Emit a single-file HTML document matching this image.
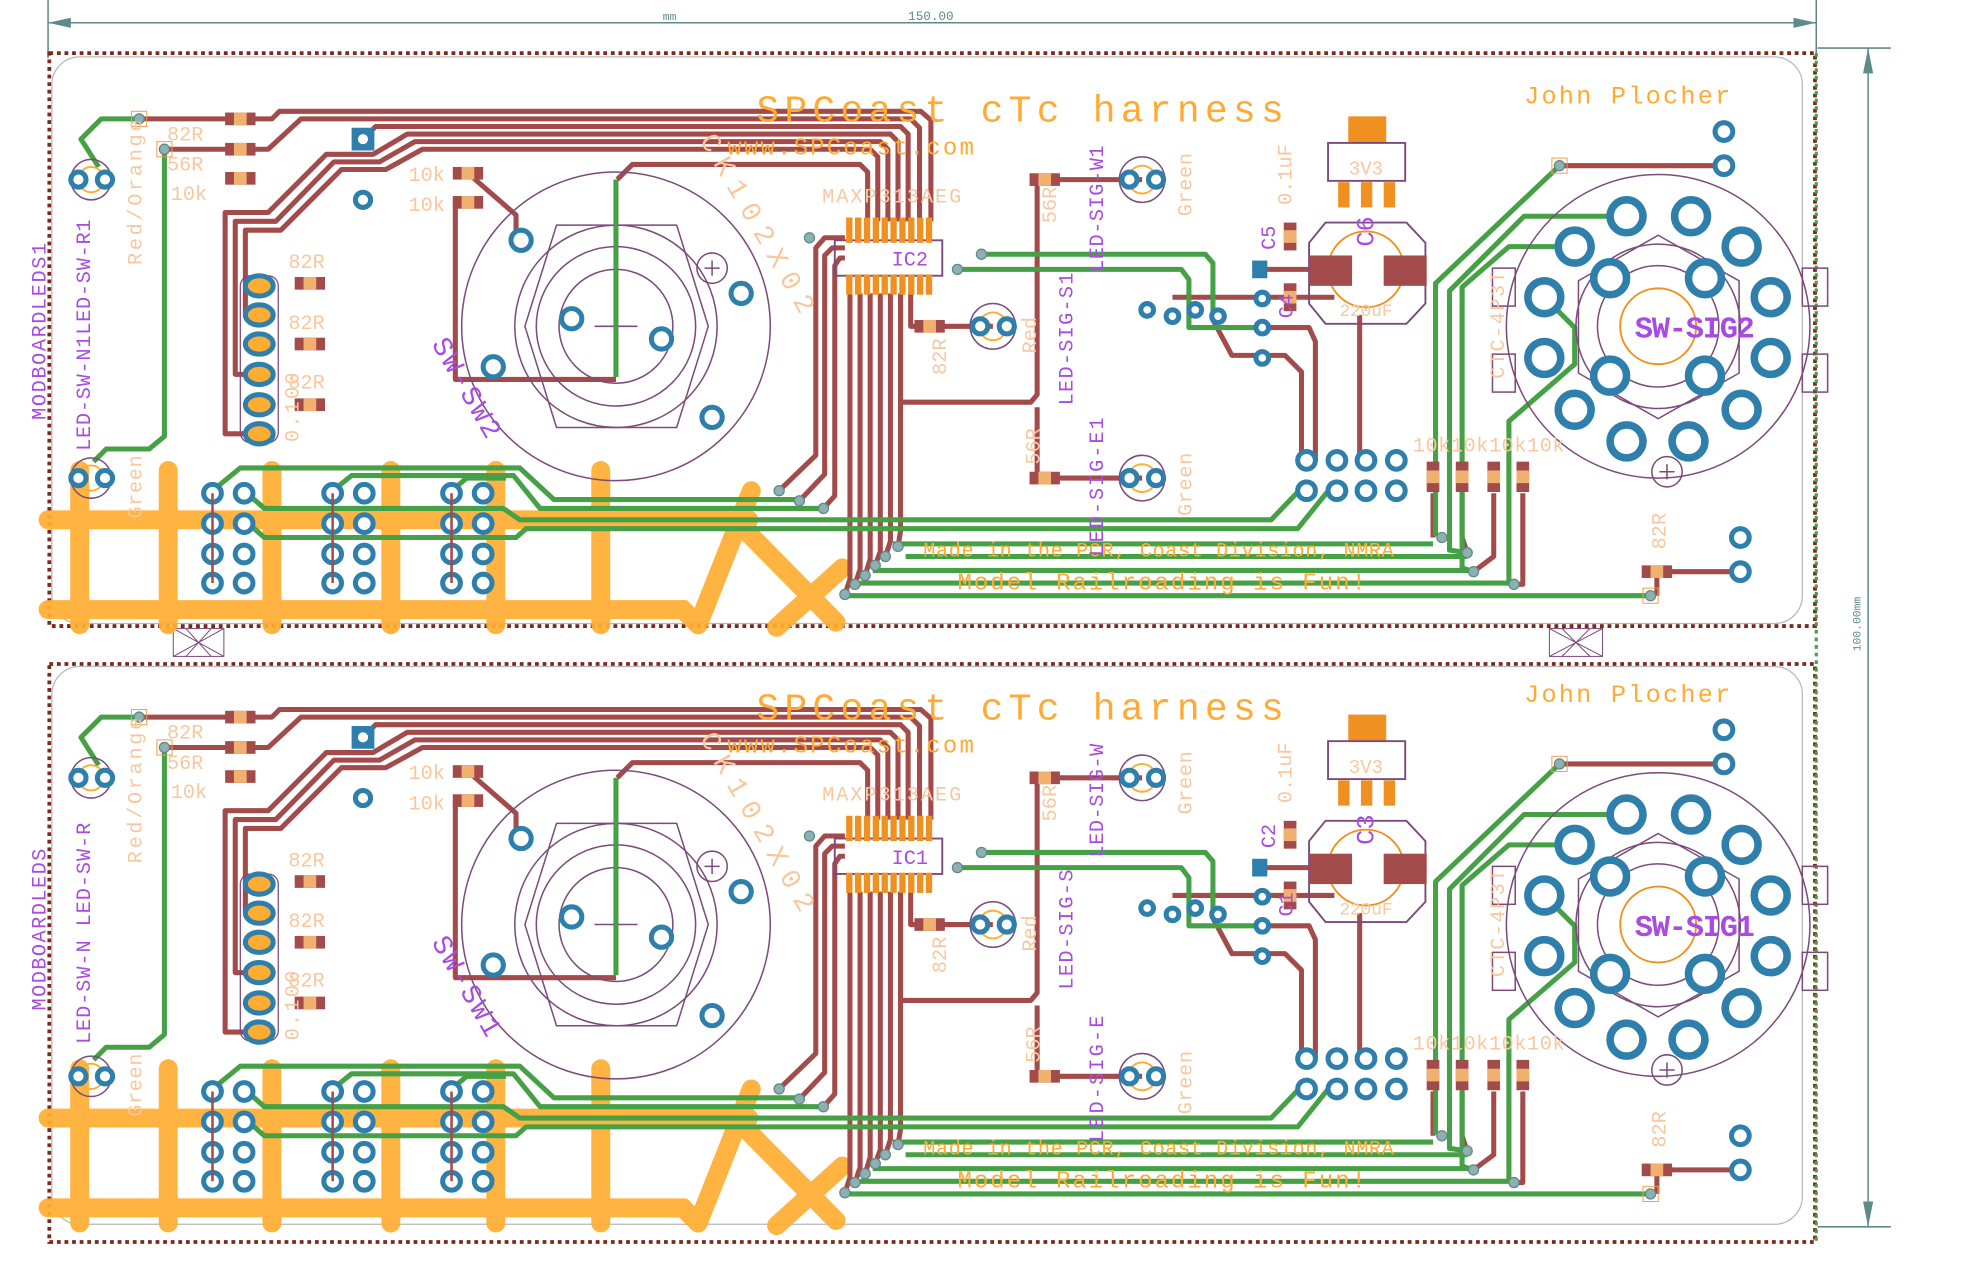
<!DOCTYPE html>
<html><head><meta charset="utf-8"><style>
html,body{margin:0;padding:0;background:#fff;}
svg{display:block;}
text{font-family:"Liberation Mono",monospace;}
.r{stroke:#a34a4a;stroke-width:4;fill:none;stroke-linejoin:round}
.g{stroke:#46a046;stroke-width:4;fill:none;stroke-linejoin:round}
.o{stroke:#ffad32;stroke-width:15;fill:none;stroke-linecap:round;opacity:.93}
.p{stroke:#7b4b7b;stroke-width:1.2;fill:none}
.pd{stroke:#2f7fad;stroke-width:4;fill:#fff}
.pb{stroke:#2f7fad;stroke-width:6;fill:#fff}
.v{fill:#8fb0b0;stroke:#5e8a8a;stroke-width:1}
.vb{fill:none;stroke:#f0a050;stroke-width:.8}
.pu{fill:#a84be0}
.lo{fill:#f9c79d}
.or{fill:#ffaa33}
</style></head><body>
<svg width="1987" height="1285" viewBox="0 0 1571 1016" preserveAspectRatio="none" xmlns="http://www.w3.org/2000/svg">
<g stroke="#5e8a8a" stroke-width="1.2" fill="none">
<path d="M38,0 V46 M1436,0 V46 M38,18 H1436"/>
<path d="M1437,38 H1495 M1437,970 H1495 M1477,38 V970"/>
</g>
<path d="M38,18 L56,14 L56,22Z M1436,18 L1418,14 L1418,22Z M1477,38 L1473,58 L1481,58Z M1477,970 L1473,950 L1481,950Z" fill="#5e8a8a"/>
<text x="524" y="16" font-size="9" fill="#5e8a8a">mm</text>
<text x="718" y="16" font-size="10" fill="#5e8a8a">150.00</text>
<text transform="translate(1471,515) rotate(-90)" font-size="9" fill="#5e8a8a">100.00mm</text>
<g fill="none" stroke="#7a2a1a" stroke-width="3" stroke-dasharray="3,3">
<rect x="39" y="42" width="1396" height="453"/>
<rect x="39" y="525" width="1396" height="457"/>
</g>
<path d="M1436,42 V982" stroke="#46a046" stroke-width="2.5" stroke-dasharray="3,3"/>
<rect x="41" y="45" width="1384" height="448" rx="22" fill="none" stroke="#b8b8b8" stroke-width="1"/>
<rect x="41" y="527" width="1384" height="441" rx="22" fill="none" stroke="#b8b8b8" stroke-width="1"/>
<g stroke="#7b4b7b" stroke-width=".8" fill="none">
<rect x="137" y="497" width="40" height="22"/><path d="M137,497 L177,519 M177,497 L137,519 M147,497 L167,519 M167,497 L147,519"/>
<rect x="1225" y="497" width="42" height="22"/><path d="M1225,497 L1267,519 M1267,497 L1225,519 M1235,497 L1257,519 M1257,497 L1235,519"/>
</g>

<!-- ================= BOARD 1 ================= -->
<g>
<path class="o" d="M38,411 H592 M38,482 H540 L552,494 M63,372 V494 M133,372 V494 M215,372 V494 M309,372 V494 M392,372 V494 M475,372 V494 M552,494 L594,388 M592,422 L661,492 M666,449 L614,496"/>
<path class="r" d="M110,94 H215 L221,88 H728 L736,95 V175"/>
<path class="r" d="M130,118 H212 L238,94 H720 L727,101 V175"/>
<path class="r" d="M287,110 L297,100 H712 L718,106 V175"/>
<path class="r" d="M205,343 H178 V168 H212 L258,122 H295 L322,106 H704 L710,112 V175"/>
<path class="r" d="M205,296 H186 V175 H218 L264,128 H300 L328,112 H696 L702,118 V175"/>
<path class="r" d="M205,248 H194 V182 H222 L270,134 H305 L334,118 H688 L694,124 V175"/>
<path class="r" d="M370,137 L408,170 V190"/>
<path class="r" d="M488,142 L500,130 H680 L686,136 V175"/>
<path class="r" d="M370,160 H360 V300 H487"/>
<path class="r" d="M672,232 V458 L668,470 M680,232 V450 L676,462 M688,232 V442 L684,455 M696,232 V436 L692,447 M704,232 V428 L700,440 M712,232 V420 L710,432"/>
<path class="r" d="M668,188 H652 L645,196 V360 L616,388 M668,196 H658 L652,202 V375 L632,396 M668,204 H664 L660,210 V392 L651,402"/>
<path class="r" d="M720,232 V258 H735 M745,258 H785 M712,240 V318 H815 L820,312 V142 H836 M820,322 V378 H903 M836,142 H903"/>
<path class="r" d="M927,235 H1055 M995,259 H1035 L1040,270 V364 M959,253 L974,281 H1016 L1029,294 V364 M1075,249 V364 M1000,213 H1045"/>
<path class="r" d="M1233,131 H1363 M1133,390 V425 M1156,390 V425 L1160,437 M1181,390 V440 L1165,452 M1204,390 V462 H1197 M1310,452 V471 M1320,452 H1376"/>
<path class="g" d="M110,94 H80 L64,110 L78,132 M130,118 V345 L118,355 H84 L74,365 M487,142 V298"/>
<path class="g" d="M168,388 L190,370 H411 L438,395 H631 M263,388 L278,376 H406 L427,402 H651 M357,388 L369,378 H400 M193,388 L209,402 H398 L411,411 H1005 L1028,387 M193,411 L209,425 H408 L416,418 H1026 L1051,387"/>
<path class="g" d="M776,201 H953 L959,208 V252 M757,213 H934 L940,221 V259 H992"/>
<path class="g" d="M1233,131 L1135,224 V424 M1286,171 H1205 L1146,230 V435 L1160,437 M1245,195 H1193 L1156,227 V449 L1165,452 M1221,235 L1245,259 V288 L1193,333 V460"/>
<path class="g" d="M706,430 H1133 M716,440 H1160 M690,451 H1165 M680,461 H1197 M670,471 H1305"/>
<g><circle class="p" cx="72" cy="142" r="16" stroke-width="2"/><circle cx="72" cy="142" r="10" fill="none" stroke="#ffad32" stroke-width="1.5"/><circle class="pd" cx="62" cy="142" r="6" stroke-width="3"/><circle class="pd" cx="83" cy="142" r="6" stroke-width="3"/></g>
<g><circle class="p" cx="72" cy="378" r="16" stroke-width="2"/><circle cx="72" cy="378" r="10" fill="none" stroke="#ffad32" stroke-width="1.5"/><circle class="pd" cx="62" cy="378" r="6" stroke-width="3"/><circle class="pd" cx="83" cy="378" r="6" stroke-width="3"/></g>
<g><rect class="vb" x="104" y="88" width="12" height="12"/><circle class="v" cx="110" cy="94" r="4"/><rect class="vb" x="124" y="112" width="12" height="12"/><circle class="v" cx="130" cy="118" r="4"/>
<circle class="v" cx="640" cy="188" r="4"/><circle class="v" cx="776" cy="201" r="4"/><circle class="v" cx="757" cy="213" r="4"/>
<circle class="v" cx="616" cy="388" r="4"/><circle class="v" cx="632" cy="396" r="4"/><circle class="v" cx="651" cy="402" r="4"/>
<circle class="v" cx="710" cy="432" r="4"/><circle class="v" cx="700" cy="440" r="4"/><circle class="v" cx="692" cy="447" r="4"/><circle class="v" cx="684" cy="455" r="4"/><circle class="v" cx="676" cy="462" r="4"/><circle class="v" cx="668" cy="470" r="4"/>
<rect class="vb" x="1227" y="125" width="12" height="12"/><circle class="v" cx="1233" cy="131" r="4"/>
<circle class="v" cx="1140" cy="425" r="4"/><circle class="v" cx="1160" cy="437" r="4"/><circle class="v" cx="1165" cy="452" r="4"/><circle class="v" cx="1197" cy="462" r="4"/><rect class="vb" x="1299" y="465" width="12" height="12"/><circle class="v" cx="1305" cy="471" r="4"/></g>
<g fill="#a34a4a">
<rect x="178" y="89" width="24" height="10"/><rect x="178" y="113" width="24" height="10"/><rect x="178" y="136" width="24" height="10"/>
<rect x="233" y="219" width="24" height="10"/><rect x="233" y="267" width="24" height="10"/><rect x="233" y="315" width="24" height="10"/>
<rect x="358" y="132" width="24" height="10"/><rect x="358" y="155" width="24" height="10"/>
<rect x="723" y="253" width="24" height="10"/><rect x="814" y="137" width="24" height="10"/><rect x="814" y="373" width="24" height="10"/>
<rect x="1128" y="365" width="10" height="24"/><rect x="1151" y="365" width="10" height="24"/><rect x="1176" y="365" width="10" height="24"/><rect x="1199" y="365" width="10" height="24"/>
<rect x="1298" y="447" width="24" height="10"/><rect x="1015" y="176" width="10" height="22"/><rect x="1015" y="224" width="10" height="22"/>
</g>
<g fill="#f0b070">
<rect x="185" y="89" width="10" height="10"/><rect x="185" y="113" width="10" height="10"/><rect x="185" y="136" width="10" height="10"/>
<rect x="240" y="219" width="10" height="10"/><rect x="240" y="267" width="10" height="10"/><rect x="240" y="315" width="10" height="10"/>
<rect x="365" y="132" width="10" height="10"/><rect x="365" y="155" width="10" height="10"/>
<rect x="730" y="253" width="10" height="10"/><rect x="821" y="137" width="10" height="10"/><rect x="821" y="373" width="10" height="10"/>
<rect x="1128" y="372" width="10" height="10"/><rect x="1151" y="372" width="10" height="10"/><rect x="1176" y="372" width="10" height="10"/><rect x="1199" y="372" width="10" height="10"/>
<rect x="1305" y="447" width="10" height="10"/><rect x="1015" y="182" width="10" height="10"/><rect x="1015" y="230" width="10" height="10"/>
</g>
<rect x="278" y="101" width="18" height="18" fill="#2f7fad"/><circle cx="287" cy="110" r="4" fill="#fff"/>
<circle class="pd" cx="287" cy="158" r="6"/>
<g><rect x="190" y="218" width="30" height="132" rx="8" fill="none" stroke="#7b4b7b" stroke-width="1"/>
<ellipse cx="205" cy="226" rx="11" ry="8" fill="#ffad32" stroke="#2f7fad" stroke-width="4"/><ellipse cx="205" cy="249" rx="11" ry="8" fill="#ffad32" stroke="#2f7fad" stroke-width="4"/><ellipse cx="205" cy="272" rx="11" ry="8" fill="#ffad32" stroke="#2f7fad" stroke-width="4"/><ellipse cx="205" cy="296" rx="11" ry="8" fill="#ffad32" stroke="#2f7fad" stroke-width="4"/><ellipse cx="205" cy="320" rx="11" ry="8" fill="#ffad32" stroke="#2f7fad" stroke-width="4"/><ellipse cx="205" cy="343" rx="11" ry="8" fill="#ffad32" stroke="#2f7fad" stroke-width="4"/></g>
<g><circle class="pd" cx="168" cy="390" r="7"/><circle class="pd" cx="193" cy="390" r="7"/><circle class="pd" cx="168" cy="414" r="7"/><circle class="pd" cx="193" cy="414" r="7"/><circle class="pd" cx="168" cy="438" r="7"/><circle class="pd" cx="193" cy="438" r="7"/><circle class="pd" cx="168" cy="461" r="7"/><circle class="pd" cx="193" cy="461" r="7"/>
<circle class="pd" cx="263" cy="390" r="7"/><circle class="pd" cx="288" cy="390" r="7"/><circle class="pd" cx="263" cy="414" r="7"/><circle class="pd" cx="288" cy="414" r="7"/><circle class="pd" cx="263" cy="438" r="7"/><circle class="pd" cx="288" cy="438" r="7"/><circle class="pd" cx="263" cy="461" r="7"/><circle class="pd" cx="288" cy="461" r="7"/>
<circle class="pd" cx="357" cy="390" r="7"/><circle class="pd" cx="382" cy="390" r="7"/><circle class="pd" cx="357" cy="414" r="7"/><circle class="pd" cx="382" cy="414" r="7"/><circle class="pd" cx="357" cy="438" r="7"/><circle class="pd" cx="382" cy="438" r="7"/><circle class="pd" cx="357" cy="461" r="7"/><circle class="pd" cx="382" cy="461" r="7"/></g>
<path d="M168,390 V461 M263,390 V461 M357,390 V461" stroke="#a34a4a" stroke-width="2"/>
<g class="p"><circle cx="487" cy="258" r="122"/><path d="M440,178 L535,178 L560,258 L535,338 L440,338 L415,258Z"/><circle cx="487" cy="258" r="80"/><circle cx="487" cy="258" r="63"/><circle cx="487" cy="258" r="45"/><circle cx="563" cy="212" r="12"/><path d="M557,212 H569 M563,206 V218 M470,258 H504"/></g>
<path d="M487,142 V298" stroke="#46a046" stroke-width="3"/>
<g><circle class="pd" cx="412" cy="190" r="8"/><circle class="pd" cx="452" cy="252" r="8"/><circle class="pd" cx="523" cy="268" r="8"/><circle class="pd" cx="390" cy="290" r="8"/><circle class="pd" cx="586" cy="232" r="8"/><circle class="pd" cx="563" cy="330" r="8"/></g>
<rect x="660" y="190" width="85" height="28" fill="none" stroke="#7b4b7b" stroke-width="1.5"/>
<g fill="#f09020"><rect x="669" y="172" width="5" height="20"/><rect x="676" y="172" width="5" height="20"/><rect x="683" y="172" width="5" height="20"/><rect x="690" y="172" width="5" height="20"/><rect x="697" y="172" width="5" height="20"/><rect x="704" y="172" width="5" height="20"/><rect x="711" y="172" width="5" height="20"/><rect x="718" y="172" width="5" height="20"/><rect x="725" y="172" width="5" height="20"/><rect x="732" y="172" width="5" height="20"/>
<rect x="669" y="217" width="5" height="16"/><rect x="676" y="217" width="5" height="16"/><rect x="683" y="217" width="5" height="16"/><rect x="690" y="217" width="5" height="16"/><rect x="697" y="217" width="5" height="16"/><rect x="704" y="217" width="5" height="16"/><rect x="711" y="217" width="5" height="16"/><rect x="718" y="217" width="5" height="16"/><rect x="725" y="217" width="5" height="16"/><rect x="732" y="217" width="5" height="16"/></g>
<g><circle class="p" cx="785" cy="258" r="18" stroke-width="2"/><circle cx="785" cy="258" r="11" fill="none" stroke="#ffad32" stroke-width="1.5"/><circle class="pd" cx="775" cy="258" r="6" stroke-width="3"/><circle class="pd" cx="796" cy="258" r="6" stroke-width="3"/></g>
<g><circle class="p" cx="903" cy="142" r="18" stroke-width="2"/><circle cx="903" cy="142" r="11" fill="none" stroke="#ffad32" stroke-width="1.5"/><circle class="pd" cx="893" cy="142" r="6" stroke-width="3"/><circle class="pd" cx="914" cy="142" r="6" stroke-width="3"/></g>
<g><circle class="p" cx="903" cy="378" r="18" stroke-width="2"/><circle cx="903" cy="378" r="11" fill="none" stroke="#ffad32" stroke-width="1.5"/><circle class="pd" cx="893" cy="378" r="6" stroke-width="3"/><circle class="pd" cx="914" cy="378" r="6" stroke-width="3"/></g>
<rect x="1066" y="92" width="30" height="22" fill="#f09020"/>
<rect x="1050" y="113" width="61" height="30" fill="#fff" stroke="#7b4b7b" stroke-width="1.5"/>
<g fill="#f09020"><rect x="1058" y="144" width="9" height="20"/><rect x="1076" y="144" width="9" height="20"/><rect x="1094" y="144" width="9" height="20"/></g>
<path d="M1048,176 H1112 L1127,192 V240 L1112,256 H1048 L1035,240 V192Z" fill="none" stroke="#7b4b7b" stroke-width="1.5"/>
<circle cx="1080" cy="213" r="30" fill="none" stroke="#f09020" stroke-width="1.5"/>
<rect x="1035" y="202" width="34" height="24" fill="#a34a4a"/><rect x="1094" y="202" width="34" height="24" fill="#a34a4a"/>
<rect x="990" y="206" width="12" height="14" fill="#2f7fad"/>
<g><circle class="pd" cx="998" cy="236" r="5" stroke-width="3"/><circle class="pd" cx="998" cy="259" r="5" stroke-width="3"/><circle class="pd" cx="998" cy="283" r="5" stroke-width="3"/>
<circle class="pd" cx="907" cy="245" r="5" stroke-width="3"/><circle class="pd" cx="927" cy="250" r="5" stroke-width="3"/><circle class="pd" cx="945" cy="245" r="5" stroke-width="3"/><circle class="pd" cx="963" cy="250" r="5" stroke-width="3"/>
<circle class="pd" cx="1033" cy="364" r="7"/><circle class="pd" cx="1057" cy="364" r="7"/><circle class="pd" cx="1080" cy="364" r="7"/><circle class="pd" cx="1104" cy="364" r="7"/>
<circle class="pd" cx="1033" cy="388" r="7"/><circle class="pd" cx="1057" cy="388" r="7"/><circle class="pd" cx="1080" cy="388" r="7"/><circle class="pd" cx="1104" cy="388" r="7"/>
<circle class="pd" cx="1363" cy="104" r="7"/><circle class="pd" cx="1363" cy="131" r="7"/><circle class="pd" cx="1376" cy="425" r="7"/><circle class="pd" cx="1376" cy="452" r="7"/></g>
<g class="p"><circle cx="1311" cy="258" r="120"/><path d="M1311,186 L1375,222 V295 L1311,331 L1248,295 V222Z"/><circle cx="1311" cy="258" r="65"/><circle cx="1311" cy="258" r="48"/><circle cx="1318" cy="373" r="12"/><path d="M1312,373 H1324 M1318,367 V379"/>
<rect x="1425" y="212" width="20" height="30"/><rect x="1425" y="280" width="20" height="30"/><rect x="1180" y="212" width="18" height="30"/><rect x="1180" y="280" width="18" height="30"/></g>
<circle cx="1311" cy="258" r="30" fill="none" stroke="#f09020" stroke-width="1.5"/>
<g><circle class="pb" cx="1286" cy="171" r="13"/><circle class="pb" cx="1337" cy="171" r="13"/><circle class="pb" cx="1377" cy="195" r="13"/><circle class="pb" cx="1400" cy="235" r="13"/><circle class="pb" cx="1400" cy="283" r="13"/><circle class="pb" cx="1377" cy="324" r="13"/><circle class="pb" cx="1335" cy="349" r="13"/><circle class="pb" cx="1286" cy="349" r="13"/><circle class="pb" cx="1245" cy="324" r="13"/><circle class="pb" cx="1221" cy="283" r="13"/><circle class="pb" cx="1221" cy="235" r="13"/><circle class="pb" cx="1245" cy="195" r="13"/>
<circle class="pb" cx="1273" cy="220" r="13"/><circle class="pb" cx="1348" cy="220" r="13"/><circle class="pb" cx="1348" cy="297" r="13"/><circle class="pb" cx="1273" cy="297" r="13"/></g>
<text x="598" y="96" font-size="30" textLength="417" class="or">SPCoast  cTc  harness</text>
<text x="575" y="122" font-size="19" textLength="195" class="or">www.SPCoast.com</text>
<text x="1205" y="82" font-size="20" textLength="163" class="or">John Plocher</text>
<text x="650" y="160" font-size="16" textLength="110" class="lo">MAXP313AEG</text>
<text x="730" y="440" font-size="16" textLength="372" class="or">Made in the PCR, Coast Division, NMRA</text>
<text x="757" y="466" font-size="19" textLength="323" class="or">Model Railroading is Fun!</text>
<text x="132" y="111" font-size="16" class="lo">82R</text><text x="132" y="135" font-size="16" class="lo">56R</text><text x="135" y="158" font-size="16" class="lo">10k</text>
<text x="228" y="212" font-size="16" class="lo">82R</text><text x="228" y="260" font-size="16" class="lo">82R</text><text x="228" y="307" font-size="16" class="lo">82R</text>
<text x="323" y="143" font-size="16" class="lo">10k</text><text x="323" y="167" font-size="16" class="lo">10k</text>
<text x="1117" y="357" font-size="16" textLength="120" class="lo">10k10k10k10k</text>
<text x="1080" y="138" font-size="15" text-anchor="middle" class="lo">3V3</text>
<text x="1080" y="250" font-size="14" text-anchor="middle" class="lo">220uF</text>
<text x="705" y="210" font-size="16" class="pu">IC2</text>
<text x="1340" y="267" font-size="24" text-anchor="middle" textLength="95" class="pu" font-weight="bold">SW-SIG2</text>
<g font-size="16">
<text transform="translate(36,262) rotate(-90)" text-anchor="middle" textLength="140" class="pu">MODBOARDLEDS1</text>
<text transform="translate(71,265) rotate(-90)" text-anchor="middle" textLength="183" class="pu">LED-SW-N1LED-SW-R1</text>
<text transform="translate(112,152) rotate(-90)" text-anchor="middle" textLength="115" class="lo">Red/Orange</text>
<text transform="translate(112,385) rotate(-90)" text-anchor="middle" textLength="50" class="lo">Green</text>
<text transform="translate(236,322) rotate(-90)" text-anchor="middle" textLength="55" class="lo">0.100</text>
<text transform="translate(748,282) rotate(-90)" text-anchor="middle" class="lo">82R</text>
<text transform="translate(819,265) rotate(-90)" text-anchor="middle" class="lo">Red</text>
<text transform="translate(835,162) rotate(-90)" text-anchor="middle" class="lo">56R</text>
<text transform="translate(822,353) rotate(-90)" text-anchor="middle" class="lo">56R</text>
<text transform="translate(872,165) rotate(-90)" text-anchor="middle" textLength="100" class="pu">LED-SIG-W1</text>
<text transform="translate(848,268) rotate(-90)" text-anchor="middle" textLength="105" class="pu">LED-SIG-S1</text>
<text transform="translate(872,385) rotate(-90)" text-anchor="middle" textLength="110" class="pu">LED-SIG-E1</text>
<text transform="translate(942,146) rotate(-90)" text-anchor="middle" textLength="50" class="lo">Green</text>
<text transform="translate(942,383) rotate(-90)" text-anchor="middle" textLength="50" class="lo">Green</text>
<text transform="translate(1021,138) rotate(-90)" text-anchor="middle" textLength="48" class="lo">0.1uF</text>
<text transform="translate(1008,188) rotate(-90)" text-anchor="middle" class="pu">C5</text>
<text transform="translate(1022,242) rotate(-90)" text-anchor="middle" class="pu">C4</text>
<text transform="translate(1086,183) rotate(-90)" text-anchor="middle" font-size="20" class="pu">C6</text>
<text transform="translate(1189,257) rotate(-90)" text-anchor="middle" textLength="85" class="lo">CTC-4P3T</text>
<text transform="translate(1317,420) rotate(-90)" text-anchor="middle" class="lo">82R</text>
<text transform="translate(593,180) rotate(60)" text-anchor="middle" font-size="22" textLength="160" class="lo">CK102X02</text>
<text transform="translate(363,310) rotate(60)" text-anchor="middle" font-size="22" textLength="88" class="pu">SW-SW2</text>
</g>
</g>

<!-- ================= BOARD 2 ================= -->
<g transform="translate(0,473)">
<path class="o" d="M38,411 H592 M38,482 H540 L552,494 M63,372 V494 M133,372 V494 M215,372 V494 M309,372 V494 M392,372 V494 M475,372 V494 M552,494 L594,388 M592,422 L661,492 M666,449 L614,496"/>
<path class="r" d="M110,94 H215 L221,88 H728 L736,95 V175"/>
<path class="r" d="M130,118 H212 L238,94 H720 L727,101 V175"/>
<path class="r" d="M287,110 L297,100 H712 L718,106 V175"/>
<path class="r" d="M205,343 H178 V168 H212 L258,122 H295 L322,106 H704 L710,112 V175"/>
<path class="r" d="M205,296 H186 V175 H218 L264,128 H300 L328,112 H696 L702,118 V175"/>
<path class="r" d="M205,248 H194 V182 H222 L270,134 H305 L334,118 H688 L694,124 V175"/>
<path class="r" d="M370,137 L408,170 V190"/>
<path class="r" d="M488,142 L500,130 H680 L686,136 V175"/>
<path class="r" d="M370,160 H360 V300 H487"/>
<path class="r" d="M672,232 V458 L668,470 M680,232 V450 L676,462 M688,232 V442 L684,455 M696,232 V436 L692,447 M704,232 V428 L700,440 M712,232 V420 L710,432"/>
<path class="r" d="M668,188 H652 L645,196 V360 L616,388 M668,196 H658 L652,202 V375 L632,396 M668,204 H664 L660,210 V392 L651,402"/>
<path class="r" d="M720,232 V258 H735 M745,258 H785 M712,240 V318 H815 L820,312 V142 H836 M820,322 V378 H903 M836,142 H903"/>
<path class="r" d="M927,235 H1055 M995,259 H1035 L1040,270 V364 M959,253 L974,281 H1016 L1029,294 V364 M1075,249 V364 M1000,213 H1045"/>
<path class="r" d="M1233,131 H1363 M1133,390 V425 M1156,390 V425 L1160,437 M1181,390 V440 L1165,452 M1204,390 V462 H1197 M1310,452 V471 M1320,452 H1376"/>
<path class="g" d="M110,94 H80 L64,110 L78,132 M130,118 V345 L118,355 H84 L74,365 M487,142 V298"/>
<path class="g" d="M168,388 L190,370 H411 L438,395 H631 M263,388 L278,376 H406 L427,402 H651 M357,388 L369,378 H400 M193,388 L209,402 H398 L411,411 H1005 L1028,387 M193,411 L209,425 H408 L416,418 H1026 L1051,387"/>
<path class="g" d="M776,201 H953 L959,208 V252 M757,213 H934 L940,221 V259 H992"/>
<path class="g" d="M1233,131 L1135,224 V424 M1286,171 H1205 L1146,230 V435 L1160,437 M1245,195 H1193 L1156,227 V449 L1165,452 M1221,235 L1245,259 V288 L1193,333 V460"/>
<path class="g" d="M706,430 H1133 M716,440 H1160 M690,451 H1165 M680,461 H1197 M670,471 H1305"/>
<g><circle class="p" cx="72" cy="142" r="16" stroke-width="2"/><circle cx="72" cy="142" r="10" fill="none" stroke="#ffad32" stroke-width="1.5"/><circle class="pd" cx="62" cy="142" r="6" stroke-width="3"/><circle class="pd" cx="83" cy="142" r="6" stroke-width="3"/></g>
<g><circle class="p" cx="72" cy="378" r="16" stroke-width="2"/><circle cx="72" cy="378" r="10" fill="none" stroke="#ffad32" stroke-width="1.5"/><circle class="pd" cx="62" cy="378" r="6" stroke-width="3"/><circle class="pd" cx="83" cy="378" r="6" stroke-width="3"/></g>
<g><rect class="vb" x="104" y="88" width="12" height="12"/><circle class="v" cx="110" cy="94" r="4"/><rect class="vb" x="124" y="112" width="12" height="12"/><circle class="v" cx="130" cy="118" r="4"/>
<circle class="v" cx="640" cy="188" r="4"/><circle class="v" cx="776" cy="201" r="4"/><circle class="v" cx="757" cy="213" r="4"/>
<circle class="v" cx="616" cy="388" r="4"/><circle class="v" cx="632" cy="396" r="4"/><circle class="v" cx="651" cy="402" r="4"/>
<circle class="v" cx="710" cy="432" r="4"/><circle class="v" cx="700" cy="440" r="4"/><circle class="v" cx="692" cy="447" r="4"/><circle class="v" cx="684" cy="455" r="4"/><circle class="v" cx="676" cy="462" r="4"/><circle class="v" cx="668" cy="470" r="4"/>
<rect class="vb" x="1227" y="125" width="12" height="12"/><circle class="v" cx="1233" cy="131" r="4"/>
<circle class="v" cx="1140" cy="425" r="4"/><circle class="v" cx="1160" cy="437" r="4"/><circle class="v" cx="1165" cy="452" r="4"/><circle class="v" cx="1197" cy="462" r="4"/><rect class="vb" x="1299" y="465" width="12" height="12"/><circle class="v" cx="1305" cy="471" r="4"/></g>
<g fill="#a34a4a">
<rect x="178" y="89" width="24" height="10"/><rect x="178" y="113" width="24" height="10"/><rect x="178" y="136" width="24" height="10"/>
<rect x="233" y="219" width="24" height="10"/><rect x="233" y="267" width="24" height="10"/><rect x="233" y="315" width="24" height="10"/>
<rect x="358" y="132" width="24" height="10"/><rect x="358" y="155" width="24" height="10"/>
<rect x="723" y="253" width="24" height="10"/><rect x="814" y="137" width="24" height="10"/><rect x="814" y="373" width="24" height="10"/>
<rect x="1128" y="365" width="10" height="24"/><rect x="1151" y="365" width="10" height="24"/><rect x="1176" y="365" width="10" height="24"/><rect x="1199" y="365" width="10" height="24"/>
<rect x="1298" y="447" width="24" height="10"/><rect x="1015" y="176" width="10" height="22"/><rect x="1015" y="224" width="10" height="22"/>
</g>
<g fill="#f0b070">
<rect x="185" y="89" width="10" height="10"/><rect x="185" y="113" width="10" height="10"/><rect x="185" y="136" width="10" height="10"/>
<rect x="240" y="219" width="10" height="10"/><rect x="240" y="267" width="10" height="10"/><rect x="240" y="315" width="10" height="10"/>
<rect x="365" y="132" width="10" height="10"/><rect x="365" y="155" width="10" height="10"/>
<rect x="730" y="253" width="10" height="10"/><rect x="821" y="137" width="10" height="10"/><rect x="821" y="373" width="10" height="10"/>
<rect x="1128" y="372" width="10" height="10"/><rect x="1151" y="372" width="10" height="10"/><rect x="1176" y="372" width="10" height="10"/><rect x="1199" y="372" width="10" height="10"/>
<rect x="1305" y="447" width="10" height="10"/><rect x="1015" y="182" width="10" height="10"/><rect x="1015" y="230" width="10" height="10"/>
</g>
<rect x="278" y="101" width="18" height="18" fill="#2f7fad"/><circle cx="287" cy="110" r="4" fill="#fff"/>
<circle class="pd" cx="287" cy="158" r="6"/>
<g><rect x="190" y="218" width="30" height="132" rx="8" fill="none" stroke="#7b4b7b" stroke-width="1"/>
<ellipse cx="205" cy="226" rx="11" ry="8" fill="#ffad32" stroke="#2f7fad" stroke-width="4"/><ellipse cx="205" cy="249" rx="11" ry="8" fill="#ffad32" stroke="#2f7fad" stroke-width="4"/><ellipse cx="205" cy="272" rx="11" ry="8" fill="#ffad32" stroke="#2f7fad" stroke-width="4"/><ellipse cx="205" cy="296" rx="11" ry="8" fill="#ffad32" stroke="#2f7fad" stroke-width="4"/><ellipse cx="205" cy="320" rx="11" ry="8" fill="#ffad32" stroke="#2f7fad" stroke-width="4"/><ellipse cx="205" cy="343" rx="11" ry="8" fill="#ffad32" stroke="#2f7fad" stroke-width="4"/></g>
<g><circle class="pd" cx="168" cy="390" r="7"/><circle class="pd" cx="193" cy="390" r="7"/><circle class="pd" cx="168" cy="414" r="7"/><circle class="pd" cx="193" cy="414" r="7"/><circle class="pd" cx="168" cy="438" r="7"/><circle class="pd" cx="193" cy="438" r="7"/><circle class="pd" cx="168" cy="461" r="7"/><circle class="pd" cx="193" cy="461" r="7"/>
<circle class="pd" cx="263" cy="390" r="7"/><circle class="pd" cx="288" cy="390" r="7"/><circle class="pd" cx="263" cy="414" r="7"/><circle class="pd" cx="288" cy="414" r="7"/><circle class="pd" cx="263" cy="438" r="7"/><circle class="pd" cx="288" cy="438" r="7"/><circle class="pd" cx="263" cy="461" r="7"/><circle class="pd" cx="288" cy="461" r="7"/>
<circle class="pd" cx="357" cy="390" r="7"/><circle class="pd" cx="382" cy="390" r="7"/><circle class="pd" cx="357" cy="414" r="7"/><circle class="pd" cx="382" cy="414" r="7"/><circle class="pd" cx="357" cy="438" r="7"/><circle class="pd" cx="382" cy="438" r="7"/><circle class="pd" cx="357" cy="461" r="7"/><circle class="pd" cx="382" cy="461" r="7"/></g>
<path d="M168,390 V461 M263,390 V461 M357,390 V461" stroke="#a34a4a" stroke-width="2"/>
<g class="p"><circle cx="487" cy="258" r="122"/><path d="M440,178 L535,178 L560,258 L535,338 L440,338 L415,258Z"/><circle cx="487" cy="258" r="80"/><circle cx="487" cy="258" r="63"/><circle cx="487" cy="258" r="45"/><circle cx="563" cy="212" r="12"/><path d="M557,212 H569 M563,206 V218 M470,258 H504"/></g>
<path d="M487,142 V298" stroke="#46a046" stroke-width="3"/>
<g><circle class="pd" cx="412" cy="190" r="8"/><circle class="pd" cx="452" cy="252" r="8"/><circle class="pd" cx="523" cy="268" r="8"/><circle class="pd" cx="390" cy="290" r="8"/><circle class="pd" cx="586" cy="232" r="8"/><circle class="pd" cx="563" cy="330" r="8"/></g>
<rect x="660" y="190" width="85" height="28" fill="none" stroke="#7b4b7b" stroke-width="1.5"/>
<g fill="#f09020"><rect x="669" y="172" width="5" height="20"/><rect x="676" y="172" width="5" height="20"/><rect x="683" y="172" width="5" height="20"/><rect x="690" y="172" width="5" height="20"/><rect x="697" y="172" width="5" height="20"/><rect x="704" y="172" width="5" height="20"/><rect x="711" y="172" width="5" height="20"/><rect x="718" y="172" width="5" height="20"/><rect x="725" y="172" width="5" height="20"/><rect x="732" y="172" width="5" height="20"/>
<rect x="669" y="217" width="5" height="16"/><rect x="676" y="217" width="5" height="16"/><rect x="683" y="217" width="5" height="16"/><rect x="690" y="217" width="5" height="16"/><rect x="697" y="217" width="5" height="16"/><rect x="704" y="217" width="5" height="16"/><rect x="711" y="217" width="5" height="16"/><rect x="718" y="217" width="5" height="16"/><rect x="725" y="217" width="5" height="16"/><rect x="732" y="217" width="5" height="16"/></g>
<g><circle class="p" cx="785" cy="258" r="18" stroke-width="2"/><circle cx="785" cy="258" r="11" fill="none" stroke="#ffad32" stroke-width="1.5"/><circle class="pd" cx="775" cy="258" r="6" stroke-width="3"/><circle class="pd" cx="796" cy="258" r="6" stroke-width="3"/></g>
<g><circle class="p" cx="903" cy="142" r="18" stroke-width="2"/><circle cx="903" cy="142" r="11" fill="none" stroke="#ffad32" stroke-width="1.5"/><circle class="pd" cx="893" cy="142" r="6" stroke-width="3"/><circle class="pd" cx="914" cy="142" r="6" stroke-width="3"/></g>
<g><circle class="p" cx="903" cy="378" r="18" stroke-width="2"/><circle cx="903" cy="378" r="11" fill="none" stroke="#ffad32" stroke-width="1.5"/><circle class="pd" cx="893" cy="378" r="6" stroke-width="3"/><circle class="pd" cx="914" cy="378" r="6" stroke-width="3"/></g>
<rect x="1066" y="92" width="30" height="22" fill="#f09020"/>
<rect x="1050" y="113" width="61" height="30" fill="#fff" stroke="#7b4b7b" stroke-width="1.5"/>
<g fill="#f09020"><rect x="1058" y="144" width="9" height="20"/><rect x="1076" y="144" width="9" height="20"/><rect x="1094" y="144" width="9" height="20"/></g>
<path d="M1048,176 H1112 L1127,192 V240 L1112,256 H1048 L1035,240 V192Z" fill="none" stroke="#7b4b7b" stroke-width="1.5"/>
<circle cx="1080" cy="213" r="30" fill="none" stroke="#f09020" stroke-width="1.5"/>
<rect x="1035" y="202" width="34" height="24" fill="#a34a4a"/><rect x="1094" y="202" width="34" height="24" fill="#a34a4a"/>
<rect x="990" y="206" width="12" height="14" fill="#2f7fad"/>
<g><circle class="pd" cx="998" cy="236" r="5" stroke-width="3"/><circle class="pd" cx="998" cy="259" r="5" stroke-width="3"/><circle class="pd" cx="998" cy="283" r="5" stroke-width="3"/>
<circle class="pd" cx="907" cy="245" r="5" stroke-width="3"/><circle class="pd" cx="927" cy="250" r="5" stroke-width="3"/><circle class="pd" cx="945" cy="245" r="5" stroke-width="3"/><circle class="pd" cx="963" cy="250" r="5" stroke-width="3"/>
<circle class="pd" cx="1033" cy="364" r="7"/><circle class="pd" cx="1057" cy="364" r="7"/><circle class="pd" cx="1080" cy="364" r="7"/><circle class="pd" cx="1104" cy="364" r="7"/>
<circle class="pd" cx="1033" cy="388" r="7"/><circle class="pd" cx="1057" cy="388" r="7"/><circle class="pd" cx="1080" cy="388" r="7"/><circle class="pd" cx="1104" cy="388" r="7"/>
<circle class="pd" cx="1363" cy="104" r="7"/><circle class="pd" cx="1363" cy="131" r="7"/><circle class="pd" cx="1376" cy="425" r="7"/><circle class="pd" cx="1376" cy="452" r="7"/></g>
<g class="p"><circle cx="1311" cy="258" r="120"/><path d="M1311,186 L1375,222 V295 L1311,331 L1248,295 V222Z"/><circle cx="1311" cy="258" r="65"/><circle cx="1311" cy="258" r="48"/><circle cx="1318" cy="373" r="12"/><path d="M1312,373 H1324 M1318,367 V379"/>
<rect x="1425" y="212" width="20" height="30"/><rect x="1425" y="280" width="20" height="30"/><rect x="1180" y="212" width="18" height="30"/><rect x="1180" y="280" width="18" height="30"/></g>
<circle cx="1311" cy="258" r="30" fill="none" stroke="#f09020" stroke-width="1.5"/>
<g><circle class="pb" cx="1286" cy="171" r="13"/><circle class="pb" cx="1337" cy="171" r="13"/><circle class="pb" cx="1377" cy="195" r="13"/><circle class="pb" cx="1400" cy="235" r="13"/><circle class="pb" cx="1400" cy="283" r="13"/><circle class="pb" cx="1377" cy="324" r="13"/><circle class="pb" cx="1335" cy="349" r="13"/><circle class="pb" cx="1286" cy="349" r="13"/><circle class="pb" cx="1245" cy="324" r="13"/><circle class="pb" cx="1221" cy="283" r="13"/><circle class="pb" cx="1221" cy="235" r="13"/><circle class="pb" cx="1245" cy="195" r="13"/>
<circle class="pb" cx="1273" cy="220" r="13"/><circle class="pb" cx="1348" cy="220" r="13"/><circle class="pb" cx="1348" cy="297" r="13"/><circle class="pb" cx="1273" cy="297" r="13"/></g>
<text x="598" y="96" font-size="30" textLength="417" class="or">SPCoast  cTc  harness</text>
<text x="575" y="122" font-size="19" textLength="195" class="or">www.SPCoast.com</text>
<text x="1205" y="82" font-size="20" textLength="163" class="or">John Plocher</text>
<text x="650" y="160" font-size="16" textLength="110" class="lo">MAXP313AEG</text>
<text x="730" y="440" font-size="16" textLength="372" class="or">Made in the PCR, Coast Division, NMRA</text>
<text x="757" y="466" font-size="19" textLength="323" class="or">Model Railroading is Fun!</text>
<text x="132" y="111" font-size="16" class="lo">82R</text><text x="132" y="135" font-size="16" class="lo">56R</text><text x="135" y="158" font-size="16" class="lo">10k</text>
<text x="228" y="212" font-size="16" class="lo">82R</text><text x="228" y="260" font-size="16" class="lo">82R</text><text x="228" y="307" font-size="16" class="lo">82R</text>
<text x="323" y="143" font-size="16" class="lo">10k</text><text x="323" y="167" font-size="16" class="lo">10k</text>
<text x="1117" y="357" font-size="16" textLength="120" class="lo">10k10k10k10k</text>
<text x="1080" y="138" font-size="15" text-anchor="middle" class="lo">3V3</text>
<text x="1080" y="250" font-size="14" text-anchor="middle" class="lo">220uF</text>
<text x="705" y="210" font-size="16" class="pu">IC1</text>
<text x="1340" y="267" font-size="24" text-anchor="middle" textLength="95" class="pu" font-weight="bold">SW-SIG1</text>
<g font-size="16">
<text transform="translate(36,262) rotate(-90)" text-anchor="middle" textLength="128" class="pu">MODBOARDLEDS</text>
<text transform="translate(71,265) rotate(-90)" text-anchor="middle" textLength="175" class="pu">LED-SW-N LED-SW-R</text>
<text transform="translate(112,152) rotate(-90)" text-anchor="middle" textLength="115" class="lo">Red/Orange</text>
<text transform="translate(112,385) rotate(-90)" text-anchor="middle" textLength="50" class="lo">Green</text>
<text transform="translate(236,322) rotate(-90)" text-anchor="middle" textLength="55" class="lo">0.100</text>
<text transform="translate(748,282) rotate(-90)" text-anchor="middle" class="lo">82R</text>
<text transform="translate(819,265) rotate(-90)" text-anchor="middle" class="lo">Red</text>
<text transform="translate(835,162) rotate(-90)" text-anchor="middle" class="lo">56R</text>
<text transform="translate(822,353) rotate(-90)" text-anchor="middle" class="lo">56R</text>
<text transform="translate(872,160) rotate(-90)" text-anchor="middle" textLength="90" class="pu">LED-SIG-W</text>
<text transform="translate(848,262) rotate(-90)" text-anchor="middle" textLength="95" class="pu">LED-SIG-S</text>
<text transform="translate(872,380) rotate(-90)" text-anchor="middle" textLength="100" class="pu">LED-SIG-E</text>
<text transform="translate(942,146) rotate(-90)" text-anchor="middle" textLength="50" class="lo">Green</text>
<text transform="translate(942,383) rotate(-90)" text-anchor="middle" textLength="50" class="lo">Green</text>
<text transform="translate(1021,138) rotate(-90)" text-anchor="middle" textLength="48" class="lo">0.1uF</text>
<text transform="translate(1008,188) rotate(-90)" text-anchor="middle" class="pu">C2</text>
<text transform="translate(1022,242) rotate(-90)" text-anchor="middle" class="pu">C1</text>
<text transform="translate(1086,183) rotate(-90)" text-anchor="middle" font-size="20" class="pu">C3</text>
<text transform="translate(1189,257) rotate(-90)" text-anchor="middle" textLength="85" class="lo">CTC-4P3T</text>
<text transform="translate(1317,420) rotate(-90)" text-anchor="middle" class="lo">82R</text>
<text transform="translate(593,180) rotate(60)" text-anchor="middle" font-size="22" textLength="160" class="lo">CK102X02</text>
<text transform="translate(363,310) rotate(60)" text-anchor="middle" font-size="22" textLength="88" class="pu">SW-SW1</text>
</g>
</g>
</svg>
</body></html>
